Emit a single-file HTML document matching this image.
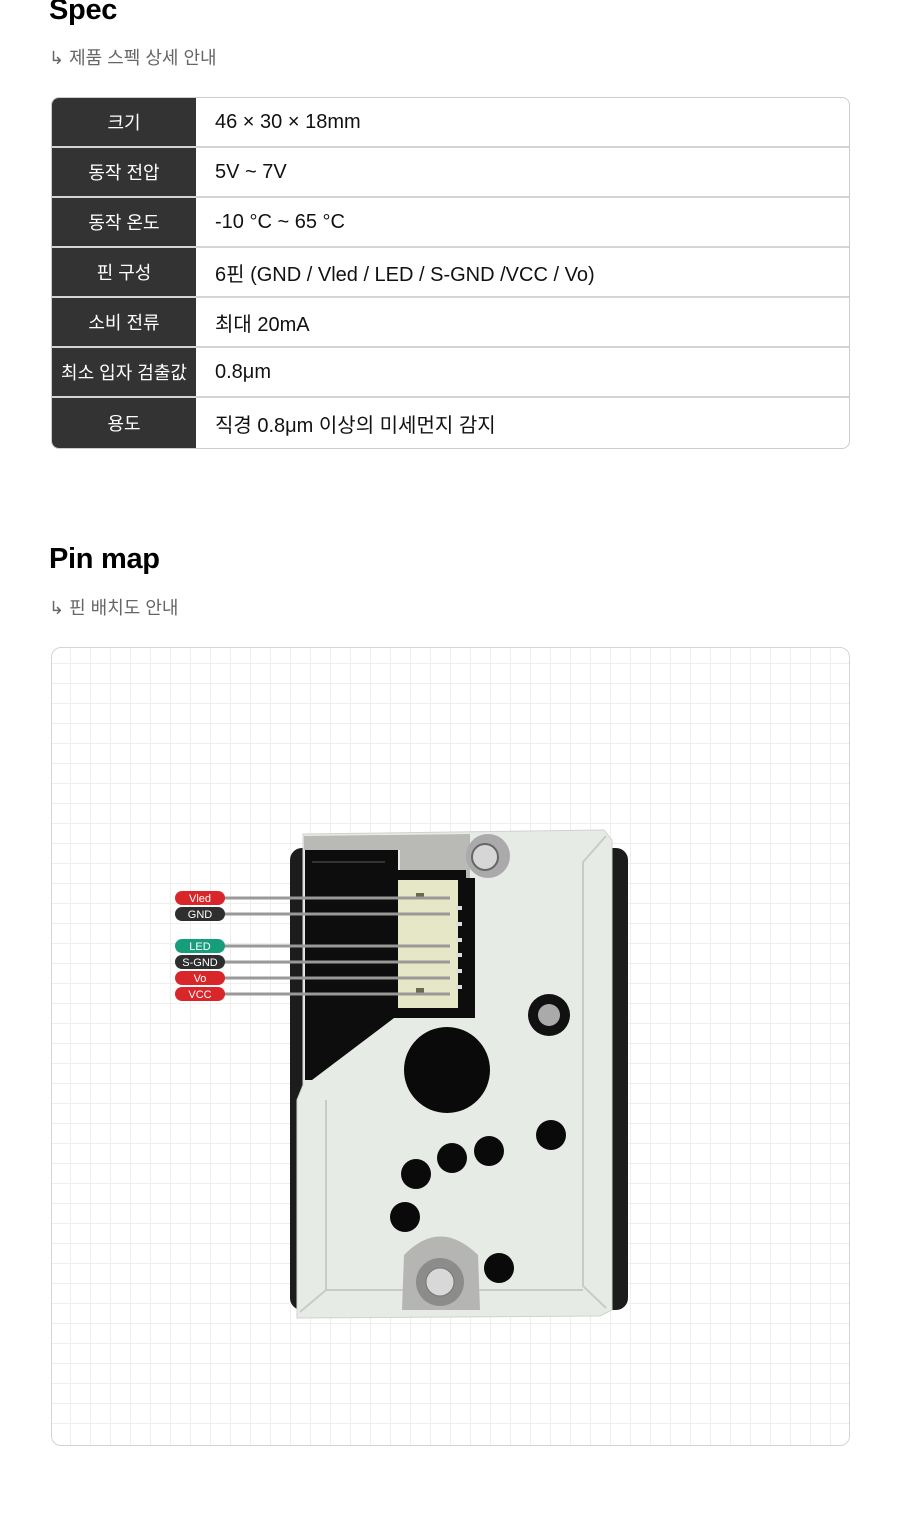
<!DOCTYPE html>
<html><head><meta charset="utf-8"><style>
*{margin:0;padding:0;box-sizing:border-box}
body{width:900px;height:1539px;background:#fff;font-family:"Liberation Sans","Noto Sans CJK KR",sans-serif;position:relative;overflow:hidden;color:#111}
h2{position:absolute;left:49px;font-size:29px;font-weight:bold;color:#000;letter-spacing:-0.3px}
.sub{position:absolute;left:49px;font-size:18px;color:#666}
table{position:absolute;left:51px;top:97px;width:799px;border-collapse:separate;border-spacing:0;border:1px solid #ccc;border-radius:8px;overflow:hidden}
td{height:50px;font-size:20px;border-bottom:2px solid #d4d4d4;vertical-align:middle}
tr:last-child td{border-bottom:none}
td.h{width:144px;background:#333;color:#fff;text-align:center;font-size:18px}
td.v{padding-left:19px;color:#111}
.grid{position:absolute;left:51px;top:647px;width:799px;height:799px;border:1px solid #d4d4d4;border-radius:10px;overflow:hidden;
background-image:repeating-linear-gradient(90deg,transparent 0 18px,#eeeeee 18px 19px,transparent 19px 20px),repeating-linear-gradient(0deg,transparent 0 18px,#eeeeee 18px 19px,transparent 19px 20px);background-position:0 -3px}
svg{position:absolute;left:0;top:0}
</style></head><body>
<h2 style="top:-6px">Spec</h2>
<div class="sub" style="top:44px">↳ 제품 스펙 상세 안내</div>
<table>
<tr><td class="h">크기</td><td class="v">46 × 30 × 18mm</td></tr>
<tr><td class="h">동작 전압</td><td class="v">5V ~ 7V</td></tr>
<tr><td class="h">동작 온도</td><td class="v">-10 °C ~ 65 °C</td></tr>
<tr><td class="h">핀 구성</td><td class="v">6핀 (GND / Vled / LED / S-GND /VCC / Vo)</td></tr>
<tr><td class="h">소비 전류</td><td class="v">최대 20mA</td></tr>
<tr><td class="h">최소 입자 검출값</td><td class="v">0.8μm</td></tr>
<tr><td class="h">용도</td><td class="v">직경 0.8μm 이상의 미세먼지 감지</td></tr>
</table>
<h2 style="top:543px">Pin map</h2>
<div class="sub" style="top:594px">↳ 핀 배치도 안내</div>
<div class="grid"></div>
<svg width="900" height="1539" viewBox="0 0 900 1539">
<rect x="290" y="848" width="338" height="462" rx="12" fill="#1c1c1c"/>
<path d="M303 834 L604 830 L612 840 L612 1310 L600 1316 L297 1318 L297 1100 L303 1085 Z" fill="#e7ebe5" stroke="#cfd3cc"/>
<path d="M583 862 L606 836 M583 862 L583 1286 L606 1308 M326 1290 L583 1290 M326 1290 L300 1312 M326 1100 L326 1290" stroke="#c8ccc6" stroke-width="2" fill="none"/>
<path d="M304 836 L470 834 L470 880 L400 876 L400 850 L304 850 Z" fill="#b9b9b6"/>
<path d="M305 850 L398 850 L398 880 L392 880 L392 1015 L475 1015 L475 880 L398 880 L398 870 L466 870 L466 884 L475 884 L475 1016 L394 1018 L312 1080 L305 1080 Z" fill="#0d0d0d"/>
<rect x="392" y="878" width="83" height="140" fill="#0d0d0d"/>
<rect x="398" y="880" width="60" height="128" fill="#e6e7c6"/>
<rect x="416" y="893" width="8" height="4" fill="#6a6a50"/>
<rect x="416" y="988" width="8" height="5" fill="#6a6a50"/>
<g fill="#ddd"><rect x="456" y="906" width="6" height="4"/><rect x="456" y="922" width="6" height="4"/><rect x="456" y="938" width="6" height="4"/><rect x="456" y="953" width="6" height="4"/><rect x="456" y="969" width="6" height="4"/><rect x="456" y="985" width="6" height="4"/></g>
<path d="M312 862 L385 862" stroke="#333" stroke-width="2"/>
<circle cx="488" cy="856" r="22" fill="#aaa"/><circle cx="485" cy="857" r="13" fill="#d6d6d6" stroke="#666" stroke-width="2"/>
<circle cx="447" cy="1070" r="43" fill="#0a0a0a"/>
<circle cx="549" cy="1015" r="21" fill="#111"/><circle cx="549" cy="1015" r="11" fill="#aaa"/>
<g fill="#0a0a0a"><circle cx="551" cy="1135" r="15"/><circle cx="489" cy="1151" r="15"/><circle cx="452" cy="1158" r="15"/><circle cx="416" cy="1174" r="15"/><circle cx="405" cy="1217" r="15"/><circle cx="499" cy="1268" r="15"/></g>
<path d="M402 1310 L404 1255 Q440 1218 478 1255 L480 1310 Z" fill="#b5b5b3"/>
<circle cx="440" cy="1282" r="24" fill="#8c8c8a"/><circle cx="440" cy="1282" r="14" fill="#d8d8d8" stroke="#777"/>
<g stroke="#999" stroke-width="3"><line x1="220" y1="898" x2="450" y2="898"/><line x1="220" y1="914" x2="450" y2="914"/><line x1="220" y1="946" x2="450" y2="946"/><line x1="220" y1="962" x2="450" y2="962"/><line x1="220" y1="978" x2="450" y2="978"/><line x1="220" y1="994" x2="450" y2="994"/></g>
<g font-family="Liberation Sans,sans-serif" font-size="11" fill="#fff" text-anchor="middle">
<rect x="175" y="891" width="50" height="14" rx="7" fill="#d9262a"/><text x="200" y="902">Vled</text>
<rect x="175" y="907" width="50" height="14" rx="7" fill="#2e2e2e"/><text x="200" y="918">GND</text>
<rect x="175" y="939" width="50" height="14" rx="7" fill="#169e7a"/><text x="200" y="950">LED</text>
<rect x="175" y="955" width="50" height="14" rx="7" fill="#2e2e2e"/><text x="200" y="966">S-GND</text>
<rect x="175" y="971" width="50" height="14" rx="7" fill="#d9262a"/><text x="200" y="982">Vo</text>
<rect x="175" y="987" width="50" height="14" rx="7" fill="#d9262a"/><text x="200" y="998">VCC</text>
</g>
</svg>
</body></html>
